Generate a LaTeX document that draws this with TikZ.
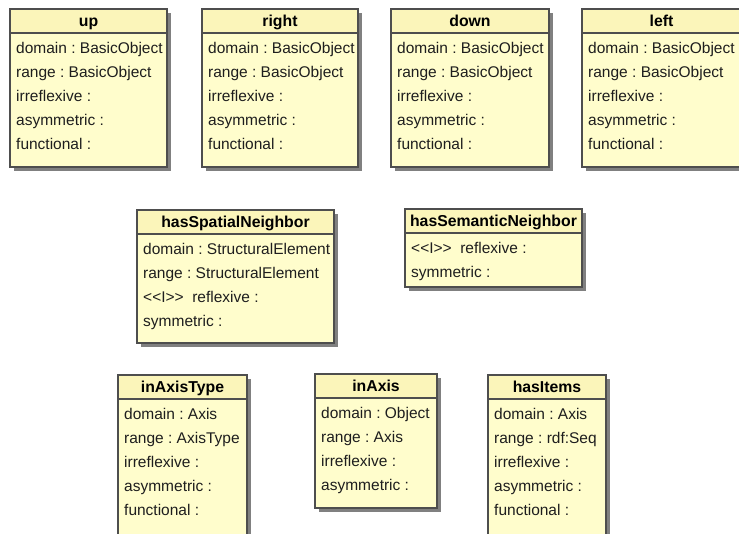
\documentclass[tikz,border=0pt]{standalone}
\usepackage{fontspec}
\setmainfont{Liberation Sans}
\usepackage{xcolor}
\usepackage{tikz}
\frenchspacing

\definecolor{propfill}{RGB}{255,253,204}
\definecolor{headfill}{RGB}{251,245,186}
\definecolor{propedge}{RGB}{78,78,78}
\definecolor{propshade}{RGB}{128,128,128}
\definecolor{proptext}{RGB}{30,30,30}

\tikzset{
	propshadow/.style={fill=propshade},
	propbody/.style={fill=propfill, draw=propedge, line width=1.1pt},
	prophead/.style={fill=headfill, draw=propedge, line width=1.1pt},
	proptitle/.style={anchor=base, inner sep=0pt, text=black, font=\fontsize{15.8}{18}\selectfont\bfseries},
	propline/.style={anchor=base west, inner sep=0pt, text=proptext, font=\fontsize{15.5}{18}\selectfont}
}

% #1 name, #2 left, #3 top, #4 right, #5 bottom, #6 title, #7 entries
\newcommand{\propbox}[7]{
	\fill[propshadow] (#2+3.5,#3+3.5) rectangle (#4+3.5,#5+3.5);
	\filldraw[propbody] (#2,#3) rectangle (#4,#5);
	\filldraw[prophead] (#2,#3) rectangle (#4,#3+24);
	\node[proptitle] (#1) at ({(#2+#4)/2},#3+17) {#6};
	\foreach \txt [count=\i] in {#7}
		\node[propline] (#1-\i) at (#2+6,#3+44+24*\i-24) {\txt};
}

\begin{document}
\begin{tikzpicture}[x=1pt,y=-1pt]
		\useasboundingbox (0,0) rectangle (739,533);
		\fill[white] (0,0) rectangle (739,533);
		% direction properties
		\propbox{up}{10}{9}{167}{167}{up}{domain : BasicObject, range : BasicObject, irreflexive :, asymmetric :, functional :}
		\propbox{right}{202}{9}{358}{167}{right}{domain : BasicObject, range : BasicObject, irreflexive :, asymmetric :, functional :}
		\propbox{down}{391}{9}{549}{167}{down}{domain : BasicObject, range : BasicObject, irreflexive :, asymmetric :, functional :}
		\propbox{left}{582}{9}{741}{167}{left}{domain : BasicObject, range : BasicObject, irreflexive :, asymmetric :, functional :}
		% neighbourhood
		\propbox{spatial}{137}{210}{334}{343}{hasSpatialNeighbor}{domain : StructuralElement, range : StructuralElement, <{}<I>{}>~ reflexive :, symmetric :}
		\propbox{semantic}{405}{209}{582}{287}{hasSemanticNeighbor}{<{}<I>{}>~ reflexive :, symmetric :}
		% axes
		\propbox{axistype}{118}{375}{247}{545}{inAxisType}{domain : Axis, range : AxisType, irreflexive :, asymmetric :, functional :}
		\propbox{axis}{315}{374}{437}{508}{inAxis}{domain : Object, range : Axis, irreflexive :, asymmetric :}
		\propbox{items}{488}{375}{606}{545}{hasItems}{domain : Axis, range : rdf:Seq, irreflexive :, asymmetric :, functional :}
	\end{tikzpicture}
\end{document}
